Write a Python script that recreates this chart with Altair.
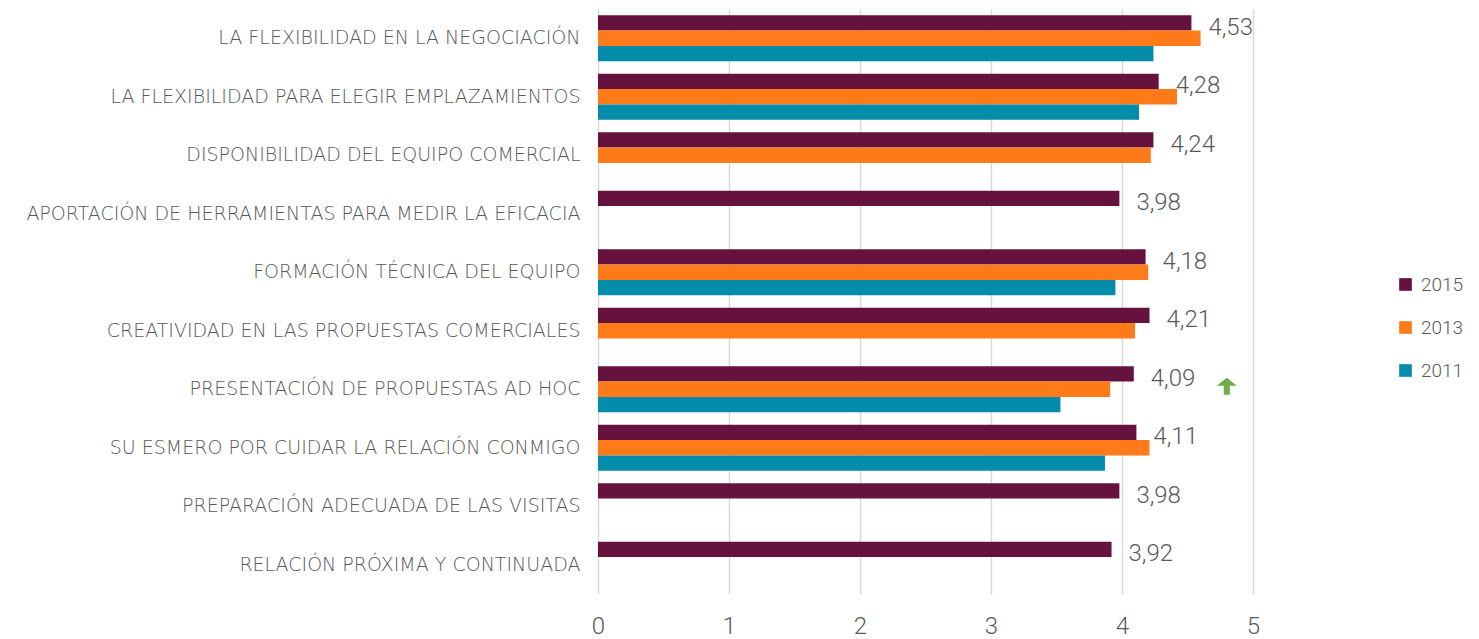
import altair as alt
import pandas as pd

categories = [
    "LA FLEXIBILIDAD EN LA NEGOCIACIÓN",
    "LA FLEXIBILIDAD PARA ELEGIR EMPLAZAMIENTOS",
    "DISPONIBILIDAD DEL EQUIPO COMERCIAL",
    "APORTACIÓN DE HERRAMIENTAS PARA MEDIR LA EFICACIA",
    "FORMACIÓN TÉCNICA DEL EQUIPO",
    "CREATIVIDAD EN LAS PROPUESTAS COMERCIALES",
    "PRESENTACIÓN DE PROPUESTAS AD HOC",
    "SU ESMERO POR CUIDAR LA RELACIÓN CONMIGO",
    "PREPARACIÓN ADECUADA DE LAS VISITAS",
    "RELACIÓN PRÓXIMA Y CONTINUADA",
]
years = ["2015", "2013", "2011"]
colors = ["#66123F", "#FF7B1A", "#048DAA"]
v2015 = [4.53, 4.28, 4.24, 3.98, 4.18, 4.21, 4.09, 4.11, 3.98, 3.92]
v2013 = [4.60, 4.42, 4.22, None, 4.20, 4.10, 3.91, 4.21, None, None]
v2011 = [4.24, 4.13, None, None, 3.95, None, 3.53, 3.87, None, None]
x_ticks = [0, 1, 2, 3, 4, 5]

# annotation: green up arrow next to one category
arrow_category = ["PRESENTACIÓN DE PROPUESTAS AD HOC"]
arrow_x = [4.8]

rows = []
for yr, vals in zip(years, [v2015, v2013, v2011]):
    for c, v in zip(categories, vals):
        if v is not None:
            rows.append({"cat": c, "year": yr, "value": v})
df = pd.DataFrame(rows)
arrow_df = pd.DataFrame({"cat": arrow_category, "x": arrow_x})

GREY = "#595959"

y_enc = alt.Y(
    "cat:N",
    sort=categories,
    scale=alt.Scale(domain=categories, paddingInner=0.21, paddingOuter=0.105),
    axis=alt.Axis(
        title=None, ticks=False, domain=False, labelPadding=18, labelFontSize=19,
        labelColor=GREY, labelFont="DejaVu Sans", labelFontWeight=300, labelLimit=0,
    ),
)
yoff = alt.YOffset("year:N", sort=years,
                   scale=alt.Scale(domain=years, paddingInner=0, paddingOuter=0))
x_enc = alt.X(
    "value:Q",
    scale=alt.Scale(domain=[0, 5], nice=False),
    axis=alt.Axis(
        title=None, values=x_ticks, format="d", ticks=False, domain=False, grid=True,
        gridColor="#D9D9D9", gridWidth=1.5, labelFontSize=24, labelColor=GREY,
        labelFont="Roboto", labelFontWeight=300, labelPadding=20, labelFlush=False,
    ),
)

bars = alt.Chart(df).mark_bar().encode(
    y=y_enc,
    yOffset=yoff,
    x=x_enc,
    color=alt.Color(
        "year:N",
        scale=alt.Scale(domain=years, range=colors),
        legend=alt.Legend(
            title=None, orient="none", legendX=798, legendY=266,
            symbolType="square", symbolSize=160, symbolStrokeWidth=0,
            labelFontSize=19, labelColor=GREY, labelFont="Roboto",
            labelFontWeight=300, rowPadding=23, labelOffset=6,
        ),
    ),
)

labels = alt.Chart(df).transform_filter(
    alt.datum.year == "2015"
).transform_calculate(
    lbl="replace(format(datum.value, '.2f'), '.', ',')"
).mark_text(
    align="left", baseline="middle", dx=17, dy=5, fontSize=24,
    font="Roboto", fontWeight=300, color=GREY,
).encode(
    y=alt.Y("cat:N", sort=categories),
    yOffset=yoff,
    x=alt.X("value:Q"),
    text="lbl:N",
)

arrow = alt.Chart(arrow_df).mark_point(
    shape="M0,-1 L1.18,-0.05 L0.36,-0.05 L0.36,1 L-0.36,1 L-0.36,-0.05 L-1.18,-0.05 Z",
    size=289, filled=True, color="#70AD47", opacity=1, yOffset=-3,
).encode(
    y=alt.Y("cat:N", sort=categories),
    x=alt.X("x:Q"),
)

chart = alt.layer(bars, labels, arrow).properties(
    width=655, height=585,
    autosize=alt.AutoSizeParams(type="none"),
    padding={"left": 590, "top": 1, "right": 218, "bottom": 44},
).configure_view(stroke=None)

chart.save("out.html", embed_options={"renderer": "svg", "actions": False})
